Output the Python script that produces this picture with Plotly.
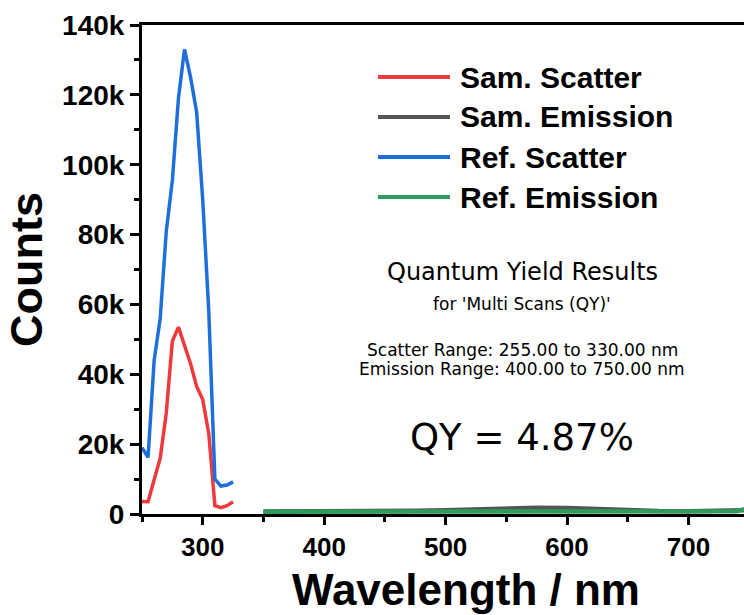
import plotly.graph_objects as go

# Scatter region (excitation) spectra, 5 nm steps
scatter_wavelength = [250, 255, 260, 265, 270, 275, 280, 285, 290, 295, 300, 305, 310, 315, 320, 325]
sam_scatter = [3600, 3500, 9800, 16000, 29000, 49500, 53500, 48500, 43000, 36500, 32800, 23000, 2400, 1800, 2400, 3500]
ref_scatter = [19000, 16200, 44000, 56000, 81000, 95500, 119000, 133000, 125000, 115000, 90000, 58000, 10000, 8000, 8300, 9200]

# Emission region spectra
emission_wavelength = [350, 375, 400, 425, 450, 475, 500, 525, 550, 575, 600, 625, 650, 675, 700, 725, 740, 746]
sam_emission = [700, 700, 750, 800, 850, 950, 1100, 1400, 1700, 1800, 1700, 1400, 1050, 880, 800, 800, 850, 1100]
ref_emission = [650, 650, 650, 660, 670, 680, 690, 700, 700, 700, 700, 690, 680, 670, 660, 680, 800, 1400]

series_names = ["Sam. Scatter", "Sam. Emission", "Ref. Scatter", "Ref. Emission"]
series_colors = ["#EE3A3C", "#555555", "#1E6FDB", "#2E9D5C"]

y_tickvals = [0, 20000, 40000, 60000, 80000, 100000, 120000, 140000]
y_ticktext = ["0", "20k", "40k", "60k", "80k", "100k", "120k", "140k"]
x_tickvals = [300, 400, 500, 600, 700]

result_lines = [
    ("Quantum Yield Results", 24),
    ("for 'Multi Scans (QY)'", 17),
    ("Scatter Range: 255.00 to 330.00 nm", 17),
    ("Emission Range: 400.00 to 750.00 nm", 17),
    ("QY = 4.87%", 37),
]
result_y = [272, 304, 350, 369, 438]  # pixel rows of each result line

W, H = 744, 615
L, R, T, B = 142, 0, 25, 101
AXIS_FONT = "Liberation Sans, Arial, sans-serif"


def px_to_paper(px, py):
    return (px - L) / (W - L - R), (H - B - py) / (H - T - B)


fig = go.Figure()
traces = [
    (scatter_wavelength, sam_scatter, 3.5),
    (emission_wavelength, sam_emission, 4.5),
    (scatter_wavelength, ref_scatter, 3.5),
    (emission_wavelength, ref_emission, 4.5),
]
for (xs, ys, w), name, color in zip(traces, series_names, series_colors):
    fig.add_trace(go.Scatter(x=xs, y=ys, mode="lines", name=name,
                             line=dict(color=color, width=w), showlegend=False))

# Legend drawn as line samples with bold labels
shapes = []
annotations = []
for i, (name, color) in enumerate(zip(series_names, series_colors)):
    row = 77 + 40 * i
    x0, y0 = px_to_paper(378, row)
    x1, _ = px_to_paper(450, row)
    tx, _ = px_to_paper(458, row)
    shapes.append(dict(type="line", xref="paper", yref="paper", x0=x0, x1=x1, y0=y0, y1=y0,
                       line=dict(color=color, width=4)))
    annotations.append(dict(text=name, xref="paper", yref="paper", x=tx, y=y0,
                            xanchor="left", yanchor="middle", showarrow=False,
                            font=dict(family=AXIS_FONT, size=30, color="black", weight="bold")))

# Quantum yield result block
for (text, size), py in zip(result_lines, result_y):
    cx, cy = px_to_paper(522, py)
    annotations.append(dict(text=text, xref="paper", yref="paper", x=cx, y=cy,
                            xanchor="center", yanchor="middle", showarrow=False,
                            font=dict(family="DejaVu Sans, Verdana, sans-serif", size=size, color="black")))

# x-axis title, centred under the full spectral span
tx, ty = px_to_paper(466, 589)
annotations.append(dict(text="Wavelength / nm", xref="paper", yref="paper", x=tx, y=ty,
                        xanchor="center", yanchor="middle", showarrow=False,
                        font=dict(family=AXIS_FONT, size=44, color="black", weight="bold")))

fig.update_layout(
    width=W, height=H,
    margin=dict(l=L, r=R, t=T, b=B),
    paper_bgcolor="white", plot_bgcolor="white",
    shapes=shapes, annotations=annotations,
    xaxis=dict(
        range=[250, 745.7], tickvals=x_tickvals,
        showline=True, linecolor="black", linewidth=3, mirror=True,
        ticks="outside", ticklen=8, tickwidth=3, tickcolor="black",
        minor=dict(dtick=50, tick0=0, ticks="outside", ticklen=5, tickwidth=2.5, tickcolor="black"),
        showgrid=False, zeroline=False,
        tickfont=dict(family=AXIS_FONT, size=26, color="black", weight="bold"),
        ticklabelstandoff=0,
    ),
    yaxis=dict(
        range=[0, 140000], tickvals=y_tickvals, ticktext=y_ticktext,
        showline=True, linecolor="black", linewidth=3,
        ticks="outside", ticklen=9, tickwidth=3, tickcolor="black",
        minor=dict(dtick=10000, tick0=0, ticks="outside", ticklen=5, tickwidth=2.5, tickcolor="black"),
        showgrid=False, zeroline=False,
        tickfont=dict(family=AXIS_FONT, size=28, color="black", weight="bold"),
        title=dict(text="Counts", standoff=6,
                   font=dict(family=AXIS_FONT, size=45, color="black", weight="bold")),
    ),
)

fig.write_html("out.html")
